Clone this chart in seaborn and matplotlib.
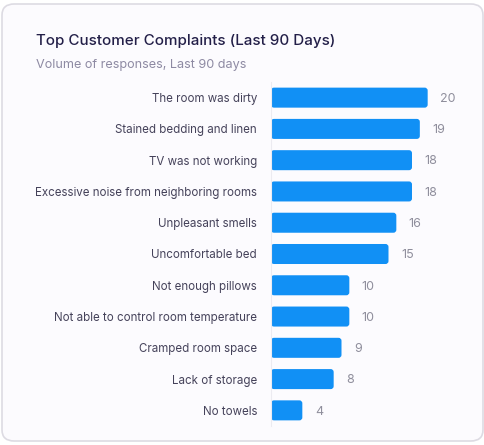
import matplotlib

matplotlib.use("Agg")
import matplotlib.pyplot as plt
import pandas as pd
import seaborn as sns
from matplotlib.patches import FancyBboxPatch

complaints = [
    "The room was dirty",
    "Stained bedding and linen",
    "TV was not working",
    "Excessive noise from neighboring rooms",
    "Unpleasant smells",
    "Uncomfortable bed",
    "Not enough pillows",
    "Not able to control room temperature",
    "Cramped room space",
    "Lack of storage",
    "No towels",
]
responses = [20, 19, 18, 18, 16, 15, 10, 10, 9, 8, 4]

BAR_COLOR = "#1190f5"
TITLE_COLOR = "#231f48"
SUB_COLOR = "#8e8aa3"
LABEL_COLOR = "#45425a"
VALUE_COLOR = "#8f8e9c"

sns.set_theme(style="white")
plt.rcParams["font.family"] = ["Inter", "DejaVu Sans"]

df = pd.DataFrame({"complaint": complaints, "responses": responses})

fig = plt.figure(figsize=(4.85, 4.45), dpi=100)
fig.patch.set_facecolor("white")

# card background with rounded border
card = FancyBboxPatch(
    (2 / 485, 4 / 445), 481 / 485, 437 / 445,
    boxstyle="round,pad=0,rounding_size=0.025",
    transform=fig.transFigure, facecolor="#fcfbfe", edgecolor="#dddbe3",
    linewidth=1.2, zorder=-5,
)
fig.patches.append(card)

ax = fig.add_axes([271 / 485, 1 - 426 / 445, 188 / 485, 344 / 445])
ax.set_zorder(2)
ax.set_facecolor("none")
sns.barplot(data=df, x="responses", y="complaint", color=BAR_COLOR,
            width=0.64, saturation=1, ax=ax)

ax.set_xlim(0, 24)
ax.set_ylim(len(complaints) - 0.5, -0.5)

# swap plain bars for slightly rounded ones
for p in list(ax.patches):
    x, y = p.get_x(), p.get_y()
    w, h = p.get_width(), p.get_height()
    p.remove()
    ax.add_patch(FancyBboxPatch(
        (x, y), w, h, boxstyle="round,pad=0,rounding_size=0.38",
        mutation_aspect=0.25, facecolor=BAR_COLOR, edgecolor="none",
    ))

for i, v in enumerate(responses):
    ax.annotate(str(v), (v, i + 0.04), xytext=(9, 0), textcoords="offset points",
                va="center", ha="left", fontsize=9, color=VALUE_COLOR)

ax.set_xlabel("")
ax.set_ylabel("")
ax.set_xticks([])
ax.tick_params(axis="y", length=0, pad=10, labelsize=8.3, labelcolor=LABEL_COLOR)
for side in ["top", "right", "bottom"]:
    ax.spines[side].set_visible(False)
ax.spines["left"].set_color("#ecebf1")
ax.spines["left"].set_linewidth(0.8)

fig.text(36 / 485, 1 - 41 / 445, "Top Customer Complaints (Last 90 Days)",
         fontsize=10.9, fontweight="medium", color=TITLE_COLOR, va="center")
fig.text(36 / 485, 1 - 65 / 445, "Volume of responses, Last 90 days",
         fontsize=9.1, color=SUB_COLOR, va="center")

fig.savefig("out.png", dpi=100)
